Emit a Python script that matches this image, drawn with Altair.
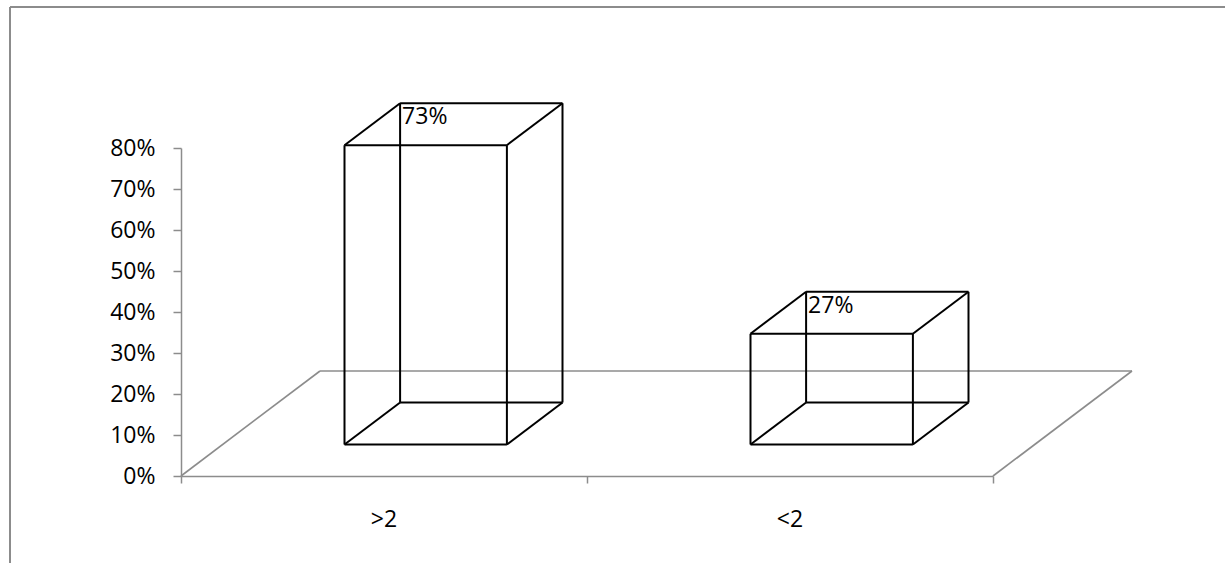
import altair as alt
import pandas as pd

# ---- data ----
categories = [">2", "<2"]
values = [0.73, 0.27]
y_tick_values = [0.0, 0.1, 0.2, 0.3, 0.4, 0.5, 0.6, 0.7, 0.8]
x_tick_values = [0, 1, 2]

# ---- 3-D projection style constants (category units / value units) ----
HALF_W = 0.2          # half bar width in category units
D_FRONT, D_BACK = 0.3, 0.7   # bar depth span (0 = front of floor, 1 = back)
DX = 139 / 406        # horizontal shift of the full floor depth, in category units
DY = 105 / 410        # vertical shift of the full floor depth, in value units

FONT = "Open Sans"
FS = 23
GREY = "#8c8c8c"


def proj(u, d, h):
    return u + d * DX, h + d * DY


def seg(a, b):
    return {"x": a[0], "y": a[1], "x2": b[0], "y2": b[1]}


# floor outline (front edge is the x axis itself)
n = len(categories)
floor_rows = [
    seg(proj(0, 1, 0), proj(n, 1, 0)),
    seg(proj(0, 0, 0), proj(0, 1, 0)),
    seg(proj(n, 0, 0), proj(n, 1, 0)),
]
floor_df = pd.DataFrame(floor_rows)

# wireframe boxes
box_rows = []
label_rows = []
cat_rows = []
for i, (c, v) in enumerate(zip(categories, values)):
    uc = i + 0.5
    uL, uR = uc - HALF_W, uc + HALF_W
    for d in (D_FRONT, D_BACK):
        box_rows.append(seg(proj(uL, d, 0), proj(uR, d, 0)))
        box_rows.append(seg(proj(uL, d, v), proj(uR, d, v)))
        box_rows.append(seg(proj(uL, d, 0), proj(uL, d, v)))
        box_rows.append(seg(proj(uR, d, 0), proj(uR, d, v)))
    for (u, h) in [(uL, 0), (uR, 0), (uL, v), (uR, v)]:
        box_rows.append(seg(proj(u, D_FRONT, h), proj(u, D_BACK, h)))
    lx, ly = proj(uL, D_BACK, v)
    label_rows.append({"x": lx, "y": ly, "value": v})
    cat_rows.append({"x": uc, "cat": c})

box_df = pd.DataFrame(box_rows)
label_df = pd.DataFrame(label_rows)
cat_df = pd.DataFrame(cat_rows)

x_enc = alt.X(
    "x:Q",
    scale=alt.Scale(domain=[0, n], nice=False, zero=False),
    axis=alt.Axis(
        values=x_tick_values, labels=False, title=None, grid=False,
        tickSize=7, tickColor=GREY, domainColor=GREY,
        tickWidth=1.5, domainWidth=1.5,
    ),
)
y_enc = alt.Y(
    "y:Q",
    scale=alt.Scale(domain=[0, 0.8], nice=False, zero=True),
    axis=alt.Axis(
        values=y_tick_values, format=".0%", title=None, grid=False,
        tickSize=8, tickColor=GREY, domainColor=GREY,
        tickWidth=1.5, domainWidth=1.5,
        labelFont=FONT, labelFontSize=FS, labelColor="black",
        labelPadding=18,
    ),
)

floor = alt.Chart(floor_df).mark_rule(color=GREY, strokeWidth=1.6).encode(
    x=x_enc, y=y_enc, x2="x2:Q", y2="y2:Q"
)

boxes = alt.Chart(box_df).mark_rule(color="black", strokeWidth=2).encode(
    x=x_enc, y=y_enc, x2="x2:Q", y2="y2:Q"
)

value_labels = alt.Chart(label_df).mark_text(
    align="left", baseline="top", dx=2, dy=3, font=FONT, fontSize=FS, color="black"
).encode(x=x_enc, y=y_enc, text=alt.Text("value:Q", format=".0%"))

cat_labels = alt.Chart(cat_df).mark_text(
    align="center", baseline="middle", dy=44, font=FONT, fontSize=FS, color="black"
).encode(x=x_enc, y=alt.value("height"), text="cat:N")

frame_data = alt.Data(values=[{"k": 1}])
frame_top = alt.Chart(frame_data).mark_rule(color=GREY, strokeWidth=2).encode(
    x=alt.value(-171), x2=alt.value(1100), y=alt.value(-141)
)
frame_left = alt.Chart(frame_data).mark_rule(color=GREY, strokeWidth=2).encode(
    x=alt.value(-171), y=alt.value(-141), y2=alt.value(500)
)

chart = alt.layer(
    frame_top, frame_left, floor, boxes, value_labels, cat_labels
).properties(
    width=812,
    height=328,
    padding={"left": 181, "top": 148, "right": 232, "bottom": 87},
    autosize=alt.AutoSizeParams(type="none"),
    background="white",
).configure_view(stroke=None)

chart.save("out.html", embed_options={"renderer": "svg", "actions": False})
